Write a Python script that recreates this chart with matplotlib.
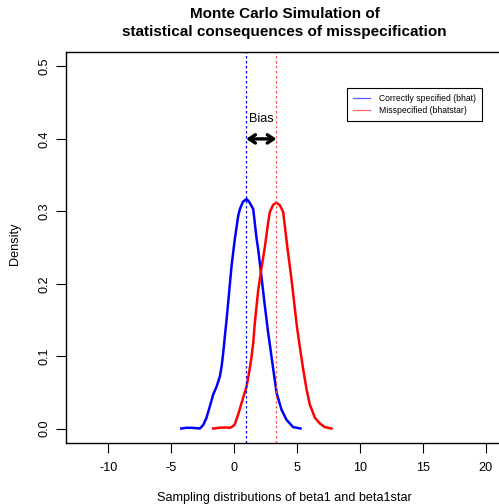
import matplotlib
matplotlib.use('Agg')
import matplotlib.pyplot as plt

plt.rcParams['font.family'] = ['Liberation Sans', 'DejaVu Sans']

# density of bhat (correctly specified model)
bhat_x = [-4.2, -3.8, -3.38, -3.0, -2.72, -2.45, -2.19, -1.92, -1.66, -1.39, -1.13,
          -0.99, -0.86, -0.73, -0.60, -0.47, -0.20, 0.06, 0.33, 0.46, 0.70, 0.99,
          1.20, 1.33, 1.52, 1.79, 1.91, 2.18, 2.44, 2.71, 2.84, 3.11, 3.38, 3.77,
          4.17, 4.69, 5.28]
bhat_y = [0.0, 0.001, 0.001, 0.0005, 0.0, 0.005, 0.015, 0.031, 0.047, 0.058, 0.072,
          0.086, 0.105, 0.128, 0.150, 0.174, 0.225, 0.262, 0.294, 0.303, 0.313, 0.317,
          0.313, 0.309, 0.303, 0.262, 0.248, 0.209, 0.170, 0.132, 0.116, 0.082, 0.049,
          0.026, 0.012, 0.002, 0.0]

# density of bhatstar (misspecified model)
bstar_x = [-1.66, -1.2, -0.73, -0.33, -0.1, 0.06, 0.3, 0.59, 0.99, 1.2, 1.38, 1.52,
           1.65, 1.91, 2.18, 2.44, 2.71, 2.84, 3.11, 3.37, 3.65, 3.90, 4.25, 4.57,
           4.80, 5.0, 5.23, 5.49, 5.76, 6.02, 6.42, 6.81, 7.21, 7.74]
bstar_y = [0.0, 0.001, 0.0015, 0.001, 0.003, 0.006, 0.018, 0.035, 0.058, 0.078, 0.098,
           0.118, 0.146, 0.190, 0.222, 0.250, 0.285, 0.299, 0.309, 0.312, 0.308, 0.299,
           0.248, 0.205, 0.170, 0.140, 0.112, 0.082, 0.054, 0.033, 0.015, 0.007, 0.002,
           0.0]

mean_bhat = 0.96
mean_bstar = 3.37
xticks = [-10, -5, 0, 5, 10, 15, 20]
yticks = [0.0, 0.1, 0.2, 0.3, 0.4, 0.5]

W, H = 499, 504
fig = plt.figure(figsize=(W / 100, H / 100), dpi=100)
ax = fig.add_axes([66 / W, (H - 443) / H, (528 - 66) / W, (443 - 52) / H])

ax.plot(bhat_x, bhat_y, color='blue', lw=1.8, label='Correctly specified (bhat)')
ax.plot(bstar_x, bstar_y, color='red', lw=1.8, label='Misspecified (bhatstar)')
ax.axvline(mean_bhat, color='blue', lw=0.9, ls=(0, (2, 2)))
ax.axvline(mean_bstar, color='#ff5050', lw=0.9, ls=(0, (2, 2)))

ax.annotate('', xy=(mean_bhat, 0.40), xytext=(mean_bstar, 0.40),
            arrowprops=dict(arrowstyle='<->,head_length=0.45,head_width=0.3',
                            lw=2.4, color='black', shrinkA=0, shrinkB=0))
ax.text((mean_bhat + mean_bstar) / 2, 0.428, 'Bias', fontsize=9.2, ha='center', va='center')

ax.set_xlim(-13.36, 23.36)
ax.set_ylim(-0.02, 0.52)
ax.set_xticks(xticks)
ax.set_xticklabels([str(t) for t in xticks])
ax.set_yticks(yticks)
ax.set_yticklabels(['%.1f' % t for t in yticks], rotation=90, va='center')
ax.tick_params(length=7.5, width=0.8, labelsize=9.1)
ax.tick_params(axis='x', pad=6)
ax.tick_params(axis='y', pad=3.5)
for s in ax.spines.values():
    s.set_linewidth(1.0)

leg = ax.legend(loc='upper left', bbox_to_anchor=((347 - 66) / 462, (443 - 88) / 391),
                fontsize=6.2, frameon=True, fancybox=False, edgecolor='black',
                framealpha=1, handlelength=2.0, handletextpad=1.0, borderpad=0.7,
                labelspacing=0.35, borderaxespad=0)
leg.get_frame().set_linewidth(0.8)
for ln, c in zip(leg.get_lines(), ['#5a5aff', '#ff6a6a']):
    ln.set_linewidth(0.9)
    ln.set_color(c)

fig.text(284.5 / W, 1 - 18 / H, 'Monte Carlo Simulation of', fontsize=11,
         fontweight='bold', ha='center', va='baseline')
fig.text(284.5 / W, 1 - 36 / H, 'statistical consequences of misspecification',
         fontsize=11, fontweight='bold', ha='center', va='baseline')
fig.text(284.5 / W, 1 - 498 / H, 'Sampling distributions of beta1 and beta1star',
         fontsize=9.1, ha='center', va='center')
fig.text(14.5 / W, 1 - 244 / H, 'Density', fontsize=9.1, rotation=90,
         ha='center', va='center')

fig.savefig('out.png', dpi=100)
